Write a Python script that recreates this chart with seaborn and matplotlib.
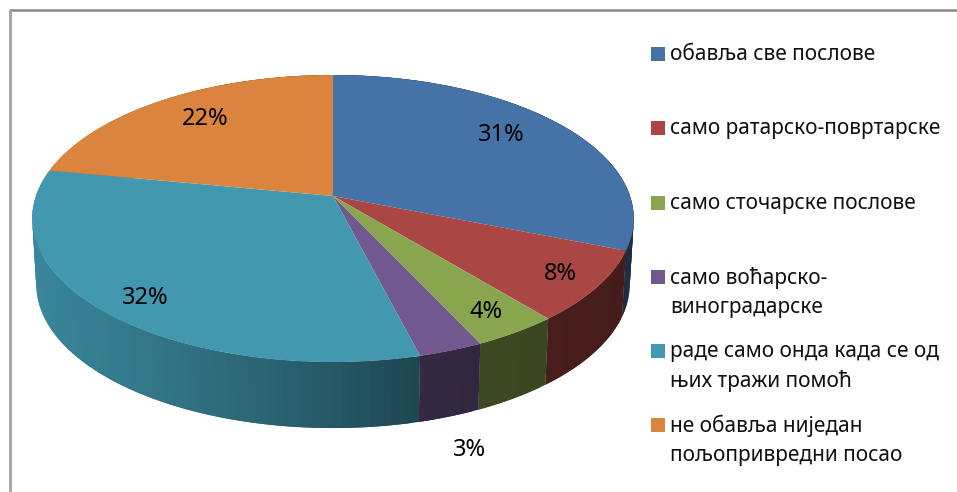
import matplotlib
matplotlib.use("Agg")
import matplotlib.pyplot as plt
from matplotlib.patches import Rectangle
from matplotlib.transforms import Transform
import numpy as np
import seaborn as sns

# slices, clockwise from 12 o'clock
VALUES = [31, 8, 4, 3, 32, 22]
COLORS = ["#4572A7", "#AA4643", "#89A54E", "#71588F", "#4198AF", "#DB843D"]
LEGEND_LABELS = [
    "обавља све послове",
    "само ратарско-повртарске",
    "само сточарске послове",
    "само воћарско-\nвиноградарске",
    "раде само онда када се од\nњих тражи помоћ",
    "не обавља један\nпољопривредни посао".replace("један", "ниједан"),
]
LEGEND_Y = [54, 128, 203, 277, 351, 425]
VALUE_LABEL_XY = [(501, 135), (560, 274), (486, 312), (470, 450), (145, 298), (205, 119)]
FONT = "Noto Sans"
# side brightness falls off from left to right
SHADE_X = [31, 150, 300, 420, 640]
SHADE_F = [0.88, 0.78, 0.62, 0.46, 0.40]


class Perspective(Transform):
    """Unit disc seen at an angle, to figure pixels."""
    input_dims = output_dims = 2

    def __init__(self, cx, cy, b, a, k):
        super().__init__()
        self.cx, self.cy, self.b, self.a, self.k = cx, cy, b, a, k

    def transform_non_affine(self, values):
        u, v = np.asarray(values).T
        den = 1 + self.k * v
        return np.column_stack([self.cx + self.b * u / den, self.cy - self.a * v / den])


if __name__ == "__main__":
    sns.set_theme(style="white")
    plt.rcParams["font.family"] = [FONT, "DejaVu Sans"]

    fig = plt.figure(figsize=(9.57, 4.92), dpi=100)
    ax = fig.add_axes([0, 0, 1, 1])

    top = Perspective(333, 196, 297, 140, 0.157)
    bottom = Perspective(333, 262, 293, 140, 0.157)

    palette = sns.color_palette(COLORS)
    wedges, _ = ax.pie(
        VALUES,
        colors=palette,
        startangle=90,
        counterclock=False,
        wedgeprops={"linewidth": 0},
    )
    for wedge in wedges:
        wedge.set_transform(top + ax.transData)
        wedge.set_zorder(3)

    # side wall, cut into thin strips so the shading can change along it
    edges = np.cumsum([0] + VALUES) / sum(VALUES) * 2 * np.pi
    for i, color in enumerate(palette):
        angles = np.linspace(edges[i], edges[i + 1], int(VALUES[i]) * 3 + 2)
        unit = np.column_stack([np.sin(angles), np.cos(angles)])
        upper = top.transform_non_affine(unit)
        lower = bottom.transform_non_affine(unit)
        last = len(angles) - 1
        for j in range(last):
            # each strip runs under the next one, so no seams show
            end = min(j + 2, last)
            f = np.interp(upper[j:j + 2, 0].mean(), SHADE_X, SHADE_F)
            ax.fill(
                [upper[j, 0], upper[end, 0], lower[end, 0], lower[j, 0]],
                [upper[j, 1], upper[end, 1], lower[end, 1], lower[j, 1]],
                facecolor=tuple(c * f for c in color),
                edgecolor="none",
                zorder=2,
            )

    ax.set_aspect("auto")
    ax.set_xlim(0, 957)
    ax.set_ylim(492, 0)
    ax.set_axis_off()

    for value, (x, y) in zip(VALUES, VALUE_LABEL_XY):
        ax.text(x, y, f"{value}%", ha="center", va="center", fontsize=17, color="black", zorder=5)

    for label, y, color in zip(LEGEND_LABELS, LEGEND_Y, palette):
        ax.add_patch(Rectangle((651, y - 7), 14, 14, facecolor=color, edgecolor="none", zorder=4))
        ax.text(670, y - 10, label, ha="left", va="top", fontsize=15, color="#111111",
                linespacing=1.5, zorder=5)

    # the frame only shows on the top and left
    ax.plot([9, 957], [10, 10], color="#8a8a8a", linewidth=1.8, solid_capstyle="butt", zorder=1)
    ax.plot([10, 10], [10, 492], color="#a8a8a8", linewidth=2.2, solid_capstyle="butt", zorder=1)

    fig.savefig("out.png", dpi=100)
    plt.close(fig)
